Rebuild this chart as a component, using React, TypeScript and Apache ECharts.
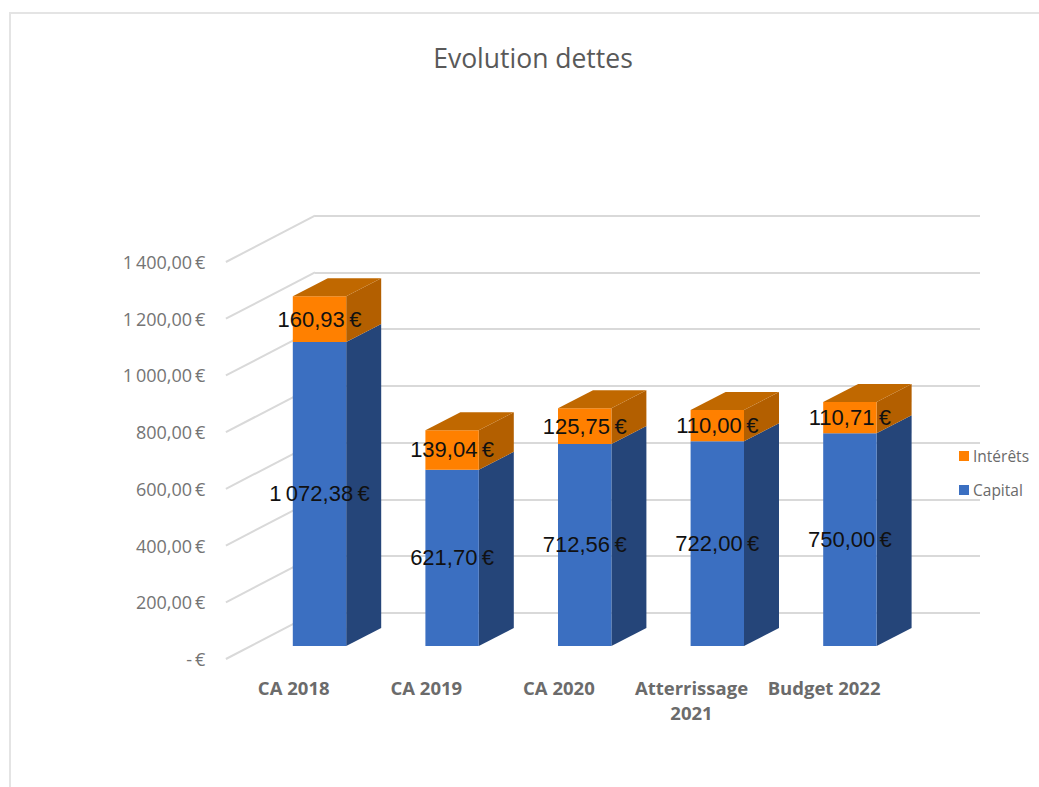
import React, { useEffect, useRef } from "react";
import * as echarts from "echarts";

const categories = ["CA 2018", "CA 2019", "CA 2020", "Atterrissage\n2021", "Budget 2022"];
const capital = [1072.38, 621.7, 712.56, 722.0, 750.0];
const interets = [160.93, 139.04, 125.75, 110.0, 110.71];
const yTicks = [0, 200, 400, 600, 800, 1000, 1200, 1400];

const FONT = '"Open Sans", sans-serif';
const THIN = "\u2009";
const BAR_SHIFT_X = 25.8;
const BAR_SHIFT_Y = -13;
const BAR_HALF = 26.7;
const DEPTH_X = 35;
const DEPTH_Y = -18;

const euro = (v: number) => {
  const [whole, dec] = v.toFixed(2).split(".");
  const grouped = whole.replace(/\B(?=(\d{3})+$)/g, THIN);
  return `${grouped},${dec}${THIN}€`;
};

const tickLabel = (v: number) => (v === 0 ? `-${THIN}€` : euro(v));

// Draws one stacked segment as a box: front face, side face, and a top cap on the last segment.
const boxRenderer =
  (front: string, side: string, top: string | null) => (_params: any, api: any) => {
    const cat = api.value(0);
    const from = api.value(1);
    const to = api.value(2);
    const amount = to - from;
    const [cx, y0Raw] = api.coord([cat, from]);
    const [, y1Raw] = api.coord([cat, to]);
    const xc = cx + BAR_SHIFT_X;
    const y0 = y0Raw + BAR_SHIFT_Y;
    const y1 = y1Raw + BAR_SHIFT_Y;
    const l = xc - BAR_HALF;
    const r = xc + BAR_HALF;
    const poly = (points: number[][], fill: string) => ({
      type: "polygon",
      shape: { points },
      style: { fill },
      silent: true,
    });
    const children: any[] = [
      poly(
        [
          [r, y0],
          [r + DEPTH_X, y0 + DEPTH_Y],
          [r + DEPTH_X, y1 + DEPTH_Y],
          [r, y1],
        ],
        side
      ),
      poly(
        [
          [l, y0],
          [r, y0],
          [r, y1],
          [l, y1],
        ],
        front
      ),
    ];
    if (top) {
      children.push(
        poly(
          [
            [l, y1],
            [r, y1],
            [r + DEPTH_X, y1 + DEPTH_Y],
            [l + DEPTH_X, y1 + DEPTH_Y],
          ],
          top
        )
      );
    }
    children.push({
      type: "text",
      x: xc,
      y: (y0 + y1) / 2,
      style: {
        text: euro(amount),
        fill: "#111111",
        font: '22px "Liberation Sans", Arial, sans-serif',
        align: "center",
        verticalAlign: "middle",
      },
      silent: true,
      z2: 10,
    });
    return { type: "group", children };
  };

// Receding lines on the side wall, one per value tick.
const wallRenderer = (params: any, api: any) => {
  const [, y] = api.coord([0, api.value(0)]);
  const x = params.coordSys.x - 1.5;
  return {
    type: "line",
    shape: { x1: x, y1: y, x2: 315, y2: y - 46.3 },
    style: { stroke: "#d9d9d9", lineWidth: 2 },
    silent: true,
  };
};

export default function App() {
  const ref = useRef<HTMLDivElement>(null);

  useEffect(() => {
    const chart = echarts.init(ref.current!, undefined, { renderer: "svg" });
    chart.setOption({
      animation: false,
      backgroundColor: "#ffffff",
      title: {
        text: "Evolution dettes",
        left: 528,
        top: 39,
        textAlign: "center",
        textStyle: { fontFamily: FONT, fontSize: 26.5, fontWeight: "normal", color: "#595959" },
      },
      legend: {
        orient: "vertical",
        left: 959,
        top: 448,
        padding: 0,
        itemWidth: 10,
        itemHeight: 10,
        itemGap: 18,
        icon: "rect",
        data: ["Intérêts", "Capital"],
        textStyle: { fontFamily: FONT, fontSize: 15.5, color: "#6a6a6a", padding: [0, 0, 0, -1] },
      },
      grid: [
        { left: 227.4, top: 262, width: 663, height: 397 },
        { left: 315, top: 215.7, width: 665, height: 397.3 },
      ],
      xAxis: [
        {
          type: "category",
          gridIndex: 0,
          data: categories,
          axisLine: { show: false },
          axisTick: { show: false },
          axisLabel: {
            fontFamily: FONT,
            fontSize: 18.5,
            fontWeight: "bold",
            color: "#6b6b6b",
            margin: 16,
            lineHeight: 25,
            interval: 0,
          },
        },
        {
          type: "value",
          gridIndex: 1,
          show: false,
        },
      ],
      yAxis: [
        {
          type: "value",
          gridIndex: 0,
          min: 0,
          max: 1400,
          interval: 200,
          axisLine: { show: false },
          axisTick: { show: false },
          splitLine: { show: false },
          axisLabel: {
            fontFamily: FONT,
            fontSize: 18,
            color: "#747474",
            margin: 22,
            formatter: (v: number) => tickLabel(v),
          },
        },
        {
          type: "value",
          gridIndex: 1,
          min: 0,
          max: 1400,
          interval: 200,
          axisLine: { show: false },
          axisTick: { show: false },
          axisLabel: { show: false },
          splitLine: { show: true, lineStyle: { color: "#d9d9d9", width: 2 } },
        },
      ],
      graphic: [
        {
          type: "polyline",
          shape: {
            points: [
              [10, 787],
              [10, 13],
              [1039, 13],
            ],
          },
          style: { stroke: "#e4e4e4", fill: "none", lineWidth: 2 },
          silent: true,
        },
      ],
      series: [
        {
          type: "custom",
          name: "walls",
          xAxisIndex: 0,
          yAxisIndex: 0,
          z: 1,
          data: yTicks.map((v) => [v]),
          encode: { y: 0 },
          renderItem: wallRenderer,
          tooltip: { show: false },
        },
        {
          type: "custom",
          name: "Capital",
          xAxisIndex: 0,
          yAxisIndex: 0,
          z: 3,
          itemStyle: { color: "#3b6fc1" },
          data: capital.map((v, i) => [i, 0, v]),
          encode: { x: 0, y: [1, 2] },
          renderItem: boxRenderer("#3b6fc1", "#254579", null),
        },
        {
          type: "custom",
          name: "Intérêts",
          xAxisIndex: 0,
          yAxisIndex: 0,
          z: 4,
          itemStyle: { color: "#ff8000" },
          data: interets.map((v, i) => [i, capital[i], capital[i] + v]),
          encode: { x: 0, y: [1, 2] },
          renderItem: boxRenderer("#ff8000", "#b35f00", "#c06800"),
        },
      ],
    });
    return () => chart.dispose();
  }, []);

  return (
    <div
      ref={ref}
      style={{ position: "absolute", left: 0, top: 0, width: 1039, height: 787 }}
    />
  );
}
